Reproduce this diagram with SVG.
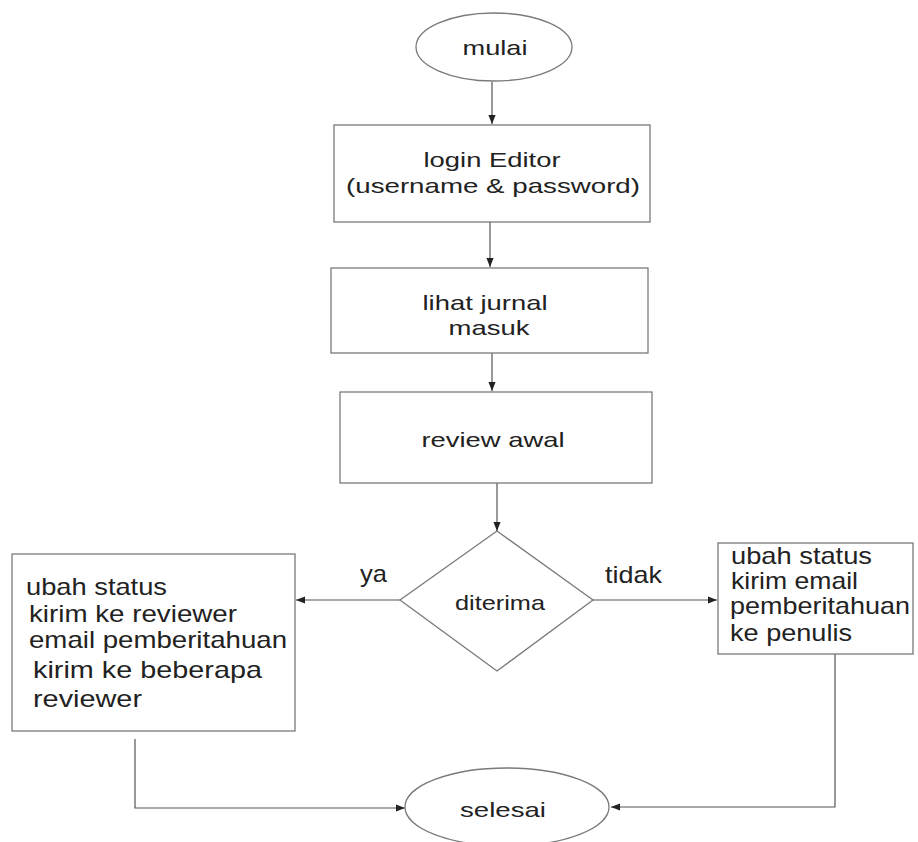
<svg xmlns="http://www.w3.org/2000/svg" width="918" height="842" viewBox="0 0 918 842">
<defs>
<style>
.shape{fill:#fff;stroke:#7a7a7a;stroke-width:1.3}
.conn{fill:none;stroke:#555;stroke-width:1.2}
text{font-family:"Liberation Sans",Arial,sans-serif;fill:#222;lengthAdjust:spacingAndGlyphs}
.t{font-size:21px}
.s{font-size:24px}
</style>
<marker id="ah" viewBox="0 0 10 10" refX="10" refY="5" markerWidth="9" markerHeight="9" markerUnits="userSpaceOnUse" orient="auto">
<path d="M0,1 L10,5 L0,9 Z" fill="#222"/>
</marker>
</defs>
<rect width="918" height="842" fill="#fff"/>
<g id="connectors">
<line class="conn" x1="492" y1="82" x2="492" y2="124" marker-end="url(#ah)"/>
<line class="conn" x1="490" y1="222" x2="490" y2="267" marker-end="url(#ah)"/>
<line class="conn" x1="492" y1="353" x2="492" y2="391" marker-end="url(#ah)"/>
<line class="conn" x1="497" y1="483" x2="497" y2="531" marker-end="url(#ah)"/>
<line class="conn" x1="400" y1="600" x2="296" y2="600" marker-end="url(#ah)"/>
<line class="conn" x1="593" y1="600" x2="717" y2="600" marker-end="url(#ah)"/>
<polyline class="conn" points="135,739 135,808 405,808" marker-end="url(#ah)"/>
<polyline class="conn" points="835,654 835,807 611,807" marker-end="url(#ah)"/>
<text class="s" x="360" y="582" textLength="27" lengthAdjust="spacingAndGlyphs">ya</text>
<text class="s" x="605" y="583" textLength="57" lengthAdjust="spacingAndGlyphs">tidak</text>
</g>
<g id="mulai">
<ellipse class="shape" cx="494" cy="47" rx="78" ry="34"/>
<text class="t" x="495" y="55" text-anchor="middle" textLength="65" lengthAdjust="spacingAndGlyphs">mulai</text>
</g>
<g id="login">
<rect class="shape" x="334" y="125" width="316" height="97"/>
<text class="t" x="492" y="167" text-anchor="middle" textLength="137" lengthAdjust="spacingAndGlyphs">login Editor</text>
<text class="t" x="493" y="193" text-anchor="middle" textLength="294" lengthAdjust="spacingAndGlyphs">(username &amp; password)</text>
</g>
<g id="lihat">
<rect class="shape" x="331" y="268" width="317" height="85"/>
<text class="t" x="485" y="310" text-anchor="middle" textLength="125" lengthAdjust="spacingAndGlyphs">lihat jurnal</text>
<text class="t" x="489" y="335" text-anchor="middle" textLength="81" lengthAdjust="spacingAndGlyphs">masuk</text>
</g>
<g id="review">
<rect class="shape" x="340" y="392" width="312" height="91"/>
<text class="t" x="493" y="447" text-anchor="middle" textLength="143" lengthAdjust="spacingAndGlyphs">review awal</text>
</g>
<g id="diterima">
<polygon class="shape" points="497,531 593,600 497,671 400,600"/>
<text class="t" x="500" y="610" text-anchor="middle" textLength="90" lengthAdjust="spacingAndGlyphs">diterima</text>
</g>
<g id="ya-box">
<rect class="shape" x="12" y="554" width="283" height="177"/>
<text class="s" x="26" y="595" textLength="141" lengthAdjust="spacingAndGlyphs">ubah status</text>
<text class="s" x="29" y="622" textLength="208" lengthAdjust="spacingAndGlyphs">kirim ke reviewer</text>
<text class="s" x="29" y="648" textLength="258" lengthAdjust="spacingAndGlyphs">email pemberitahuan</text>
<text class="s" x="33" y="678" textLength="229" lengthAdjust="spacingAndGlyphs">kirim ke beberapa</text>
<text class="s" x="33" y="707" textLength="109" lengthAdjust="spacingAndGlyphs">reviewer</text>
</g>
<g id="tidak-box">
<rect class="shape" x="718" y="543" width="195" height="111"/>
<text class="s" x="731" y="564" textLength="141" lengthAdjust="spacingAndGlyphs">ubah status</text>
<text class="s" x="731" y="589" textLength="127" lengthAdjust="spacingAndGlyphs">kirim email</text>
<text class="s" x="730" y="614" textLength="180" lengthAdjust="spacingAndGlyphs">pemberitahuan</text>
<text class="s" x="730" y="641" textLength="122" lengthAdjust="spacingAndGlyphs">ke penulis</text>
</g>
<g id="selesai">
<ellipse class="shape" cx="507" cy="807" rx="102" ry="39"/>
<text class="t" x="503" y="817" text-anchor="middle" textLength="86" lengthAdjust="spacingAndGlyphs">selesai</text>
</g>
</svg>
